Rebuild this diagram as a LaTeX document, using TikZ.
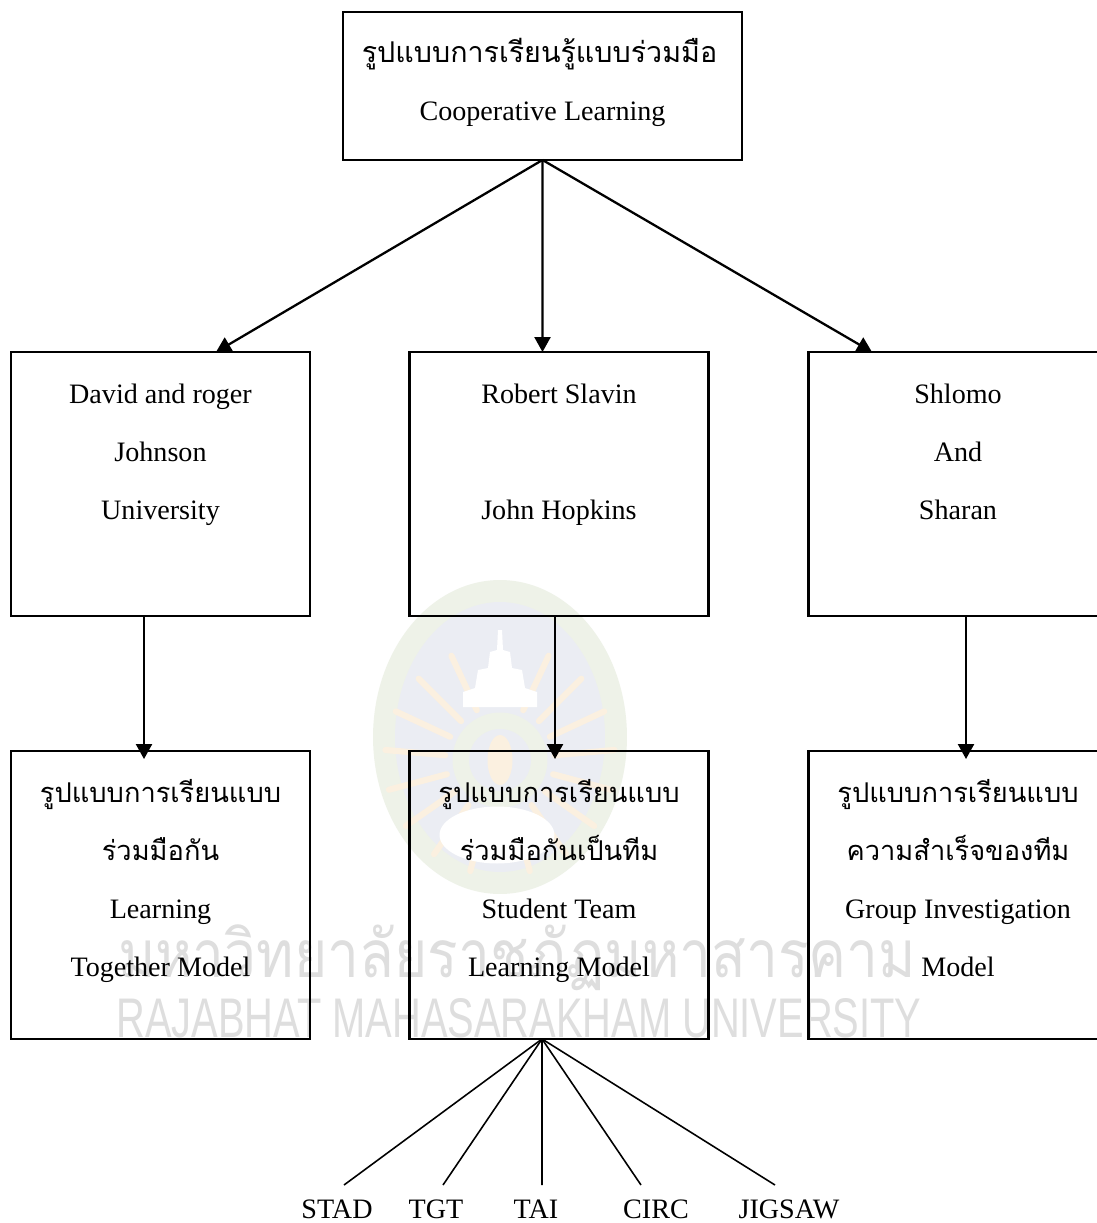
\documentclass[tikz,border=0pt]{standalone}
\usepackage{graphicx}
\usepackage{fontspec}
\setmainfont{Liberation Serif}
\newfontfamily\thaifont[Script=Thai]{Loma}
\newfontfamily\wmsans{Liberation Sans}
\usetikzlibrary{arrows.meta}
\definecolor{sealgreen}{RGB}{238,242,232}
\definecolor{sealblue}{RGB}{235,237,243}
\definecolor{sealflame}{RGB}{251,240,224}
\definecolor{wmgray}{RGB}{222,222,222}
\newcommand{\thaitop}[1]{{\thaifont\fontsize{16.3}{33}\selectfont #1}}
\newcommand{\thailow}[1]{{\thaifont\fontsize{15.5}{33}\selectfont #1}}
\tikzset{
  boxnode/.style={draw, line width=1.2pt, inner sep=0pt, outer sep=0pt, align=center,
    font=\fontsize{16}{33}\selectfont},
  topbox/.style={boxnode, minimum width=7.98cm, minimum height=2.96cm},
  midbox/.style={boxnode, minimum width=5.98cm, minimum height=5.28cm},
  lowbox/.style={boxnode, minimum width=5.98cm, minimum height=5.76cm},
  conn/.style={line width=1.3pt, -{Triangle[length=.3cm,width=.32cm]}},
  fanline/.style={line width=.9pt},
  fanlabel/.style={font=\fontsize{16}{20}\selectfont, inner sep=0pt}
}
\begin{document}
\begin{tikzpicture}[x=.02cm,y=-.02cm]
  \clip (0,0) rectangle (1097,1223);
  \fill[white] (0,0) rectangle (1097,1223);
  % seal behind the boxes
  \fill[sealgreen] (500,737) ellipse [x radius=2.54cm, y radius=3.14cm];
  \fill[sealblue] (500,737) ellipse [x radius=2.1cm, y radius=2.7cm];
  \foreach \a in {-75,-55,-35,-15,5,25,45,65,115,135,155,175,195,215,235,255}
    \draw[sealflame, line width=3.5pt, line cap=round] (500,760) ++(\a:1.1cm) -- ++(\a:1.2cm);
  \fill[sealgreen] (500,760) circle (.95cm);
  \fill[sealblue] (500,760) circle (.62cm);
  \fill[sealflame] (500,760) ellipse [x radius=.25cm, y radius=.5cm];
  \fill[white] (498,630) -- (502,630) -- (503,650) -- (510,652) -- (512,668) -- (522,670) -- (525,688) -- (537,692) -- (537,707) -- (463,707) -- (463,692) -- (475,688) -- (478,670) -- (488,668) -- (490,652) -- (497,650) -- cycle;
  \fill[white] (497,835) ellipse [x radius=1.15cm, y radius=.57cm];
  % watermark
  \node[text=wmgray, inner sep=0pt] (wmthai) at (517,958) {\resizebox*{15.96cm}{1.32cm}{\thaifont มหาวิทยาลัยราชภัฏมหาสารคาม}};
  \node[text=wmgray, inner sep=0pt] (wmlatin) at (519,1018) {\resizebox{16.1cm}{.78cm}{\wmsans RAJABHAT MAHASARAKHAM UNIVERSITY}};
  % boxes
  \node[topbox] (top) at (542.5,86) {\hspace*{-.12cm}\thaitop{รูปแบบการเรียนรู้แบบร่วมมือ}\\Cooperative Learning\\[-25pt]\mbox{}};
  \node[midbox] (mleft) at (160.5,484) {David and roger\\Johnson\\University\\[3.6pt]\mbox{}};
  \node[midbox] (mcenter) at (559,484) {Robert Slavin\\[33pt]John Hopkins\\[3.6pt]\mbox{}};
  \node[midbox] (mright) at (958,484) {Shlomo\\And\\Sharan\\[3.6pt]\mbox{}};
  \node[lowbox] (lleft) at (160.5,895) {\thailow{รูปแบบการเรียนแบบ}\\\thailow{ร่วมมือกัน}\\Learning\\Together Model\\[-13.6pt]\mbox{}};
  \node[lowbox] (lcenter) at (559,895) {\thailow{รูปแบบการเรียนแบบ}\\\thailow{ร่วมมือกันเป็นทีม}\\Student Team\\Learning Model\\[-13.6pt]\mbox{}};
  \node[lowbox] (lright) at (958,895) {\thailow{รูปแบบการเรียนแบบ}\\\thailow{ความสำเร็จของทีม}\\Group Investigation\\Model\\[-13.6pt]\mbox{}};
  % arrows
  \draw[conn] (top.south) -- ([xshift=1.11cm]mleft.north);
  \draw[conn] (top.south) -- ([xshift=-.33cm]mcenter.north);
  \draw[conn] (top.south) -- ([xshift=-1.72cm]mright.north);
  \draw[conn, shorten >=-.16cm] ([xshift=-.33cm]mleft.south) -- ([xshift=-.33cm]lleft.north);
  \draw[conn, shorten >=-.16cm] ([xshift=-.08cm]mcenter.south) -- ([xshift=-.08cm]lcenter.north);
  \draw[conn, shorten >=-.16cm] ([xshift=.16cm]mright.south) -- ([xshift=.16cm]lright.north);
  % fan below the middle box
  \foreach \nm/\lab/\xe/\xl in {stad/STAD/344/337, tgt/TGT/443/436, tai/TAI/542/536, circ/CIRC/641/656, jigsaw/JIGSAW/775/789} {
    \node[fanlabel] (\nm) at (\xl,1209) {\lab};
    \coordinate (\nm end) at (\xe,1185);
    \draw[fanline] ([xshift=-.34cm]lcenter.south) -- (\nm end);
  }
\end{tikzpicture}
\end{document}
